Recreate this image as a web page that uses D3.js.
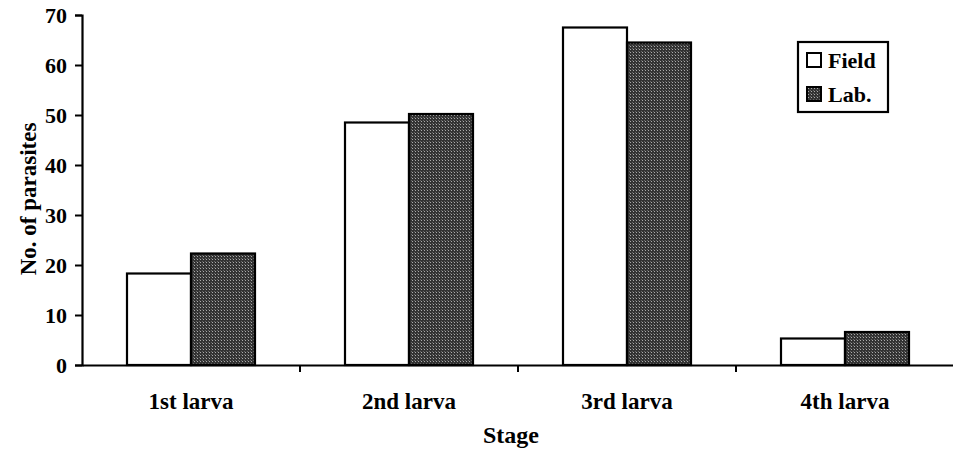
<!DOCTYPE html>
<html>
<head>
<meta charset="utf-8">
<script src="https://cdn.jsdelivr.net/npm/d3@7"></script>
<style>
  body { margin: 0; background: #fff; }
  text { font-family: "Liberation Serif", "DejaVu Serif", serif; font-weight: bold; fill: #000; }
</style>
</head>
<body>
<div id="chart"></div>
<script>
// data
var stages = ["1st larva", "2nd larva", "3rd larva", "4th larva"];
var seriesNames = ["Field", "Lab."];
var fieldValues = [18.3, 48.5, 67.5, 5.3];
var labValues = [22.3, 50.2, 64.5, 6.6];
var yTicks = [0, 10, 20, 30, 40, 50, 60, 70];

var svgWidth = 953;
var svgHeight = 450;
var margin = { top: 15, right: 0, bottom: 85, left: 82 };
var width = 872;
var height = svgHeight - margin.top - margin.bottom;

var svg = d3.select("#chart").append("svg")
    .attr("width", svgWidth)
    .attr("height", svgHeight);

// stipple pattern for the lab bars
var defs = svg.append("defs");
var pat = defs.append("pattern")
    .attr("id", "stipple")
    .attr("patternUnits", "userSpaceOnUse")
    .attr("width", 3)
    .attr("height", 3);
pat.append("rect").attr("width", 3).attr("height", 3).attr("fill", "#333");
pat.append("rect").attr("x", 1).attr("y", 1).attr("width", 1).attr("height", 1).attr("fill", "#aaa");
pat.append("rect").attr("x", 0).attr("y", 0).attr("width", 1).attr("height", 1).attr("fill", "#666");

var chartGroup = svg.append("g")
    .attr("transform", `translate(${margin.left}, ${margin.top})`);

var x0 = d3.scaleBand().domain(stages).range([0, width]).padding(0);
var pairWidth = 128;
var x1 = d3.scaleBand().domain(seriesNames)
    .range([(x0.bandwidth() - pairWidth) / 2, (x0.bandwidth() + pairWidth) / 2]);
var y = d3.scaleLinear().domain([0, 70]).range([height, 0]);

var fills = { "Field": "#fff", "Lab.": "url(#stipple)" };

var rows = stages.map(function (s, i) {
    return { stage: s, values: [
        { key: "Field", value: fieldValues[i] },
        { key: "Lab.", value: labValues[i] }
    ] };
});

// bars
var groups = chartGroup.selectAll(".grp")
    .data(rows)
    .enter()
    .append("g")
    .attr("transform", d => `translate(${x0(d.stage)},0)`);

groups.selectAll("rect")
    .data(d => d.values)
    .enter()
    .append("rect")
    .attr("x", d => x1(d.key))
    .attr("y", d => y(d.value))
    .attr("width", x1.bandwidth())
    .attr("height", d => height - y(d.value))
    .attr("fill", d => fills[d.key])
    .attr("stroke", "#000")
    .attr("stroke-width", 2.2);

// y axis
var leftAxis = d3.axisLeft(y).tickValues(yTicks).tickSize(7).tickPadding(8);
var yAxis = chartGroup.append("g").call(leftAxis);
yAxis.select(".domain").attr("stroke-width", 2.2);
yAxis.selectAll(".tick line").attr("stroke-width", 2);
yAxis.selectAll("text").style("font-size", "22px").style("font-family", "Liberation Serif").attr("dy", "0.34em");

// x axis, labels centred, ticks at category boundaries
var bottomAxis = d3.axisBottom(x0).tickSize(0).tickPadding(0);
var xAxis = chartGroup.append("g")
    .attr("transform", `translate(0, ${height})`)
    .call(bottomAxis);
xAxis.select(".domain").attr("stroke-width", 2.2);
xAxis.selectAll("text")
    .attr("dy", null)
    .attr("y", 44)
    .style("font-size", "23px")
    .style("font-family", "Liberation Serif");

xAxis.selectAll(".sep")
    .data(stages.slice(0, 3))
    .enter()
    .append("line")
    .attr("x1", d => x0(d) + x0.bandwidth())
    .attr("x2", d => x0(d) + x0.bandwidth())
    .attr("y1", 0)
    .attr("y2", 7)
    .attr("stroke", "#000")
    .attr("stroke-width", 2);

// axis titles
chartGroup.append("text")
    .attr("transform", "rotate(-90)")
    .attr("x", -184)
    .attr("y", -margin.left + 36)
    .attr("text-anchor", "middle")
    .style("font-size", "23px")
    .text("No. of parasites");

chartGroup.append("text")
    .attr("x", 511 - margin.left)
    .attr("y", 443 - margin.top)
    .attr("text-anchor", "middle")
    .style("font-size", "24px")
    .text("Stage");

// legend
var legend = svg.append("g").attr("transform", "translate(798, 42)");
legend.append("rect")
    .attr("width", 90)
    .attr("height", 70)
    .attr("fill", "#fff")
    .attr("stroke", "#000")
    .attr("stroke-width", 2.2);

var items = legend.selectAll(".item")
    .data(seriesNames)
    .enter()
    .append("g")
    .attr("transform", (d, i) => `translate(9, ${11 + i * 34})`);

items.append("rect")
    .attr("width", 14)
    .attr("height", 14)
    .attr("fill", d => fills[d])
    .attr("stroke", "#000")
    .attr("stroke-width", 2);

items.append("text")
    .attr("x", 21)
    .attr("y", 15)
    .style("font-size", "22px")
    .text(d => d);
</script>
</body>
</html>
